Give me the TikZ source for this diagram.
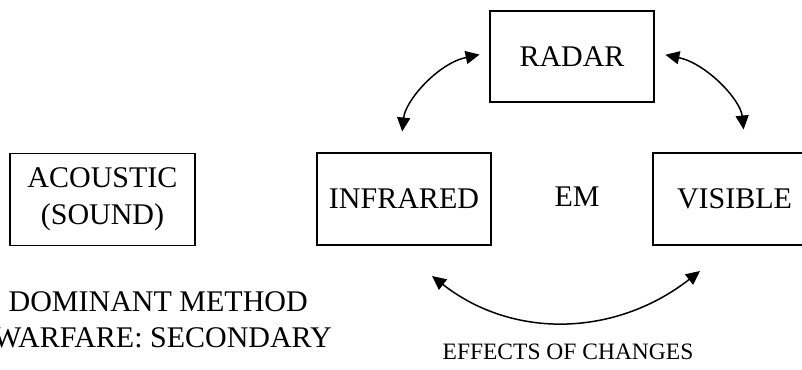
\documentclass[tikz,border=0pt]{standalone}
\usepackage{fontspec}
\setmainfont{Liberation Serif}
\usetikzlibrary{arrows.meta}

\tikzset{
  big/.style={font=\fontsize{30}{37}\selectfont},
  small/.style={font=\fontsize{23.5}{28}\selectfont},
  box/.style={rectangle, draw, line width=1.2pt, inner sep=0pt, minimum height=92pt, big},
  link/.style={{Triangle[length=14pt,width=13pt]}-{Triangle[length=14pt,width=13pt]}, line width=1.5pt},
}

\begin{document}
\begin{tikzpicture}[x=1pt,y=1pt]

\useasboundingbox (0,0) rectangle (802,369);
\clip (0,0) rectangle (802,369);

\draw (102.5,169.5) node (acoustic) [box, minimum width=185, align=center] {ACOUSTIC\\(SOUND)};

\draw (404,170)     node (infrared) [box, minimum width=174] {INFRARED};
\draw (577,172)     node (em)       [big]                    {EM};
\draw (734.5,170)   node (visible)  [box, minimum width=163] {VISIBLE};

\draw (572,312.5)   node (radar)    [box, minimum width=164, minimum height=91] {RADAR};

\draw[link, shorten <=21pt, shorten >=10pt] ([xshift=-4pt]infrared.north) to[out=84,in=192] ([yshift=4pt]radar.west);
\draw[link, shorten <=11pt, shorten >=23pt] ([yshift=4pt]radar.east) to[out=-12,in=96] ([xshift=11.5pt]visible.north);

\coordinate (effl) at (432,93);
\coordinate (effr) at (700,98);
\draw[link] (effl) to[out=-38,in=-142] (effr);

\draw (568,17)      node (effects)  [small] {EFFECTS OF CHANGES};

\draw (308,67)      node (dominant) [big, anchor=east, inner sep=0pt] {DOMINANT METHOD};
\draw (332,31)      node (warfare)  [big, anchor=east, inner sep=0pt] {WARFARE: SECONDARY};

\end{tikzpicture}
\end{document}
